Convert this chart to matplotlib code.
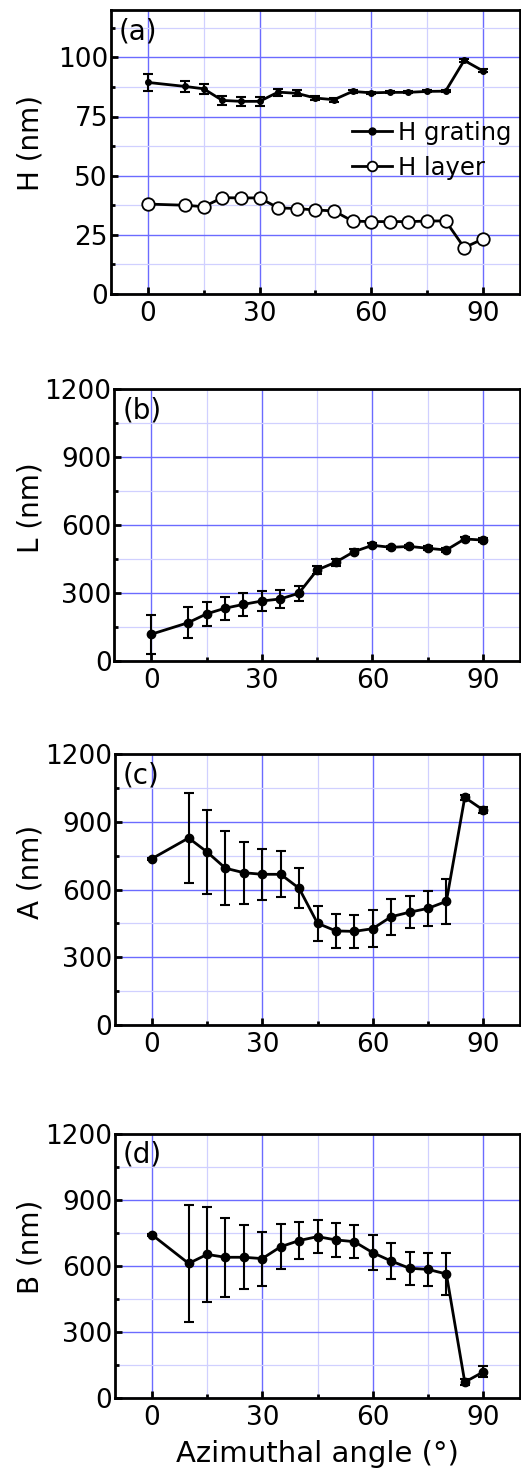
import matplotlib
matplotlib.use("Agg")
import matplotlib.pyplot as plt
from matplotlib.ticker import MultipleLocator
from matplotlib.lines import Line2D

plt.rcParams['font.family'] = ['DejaVu Sans']

angles = [0, 10, 15, 20, 25, 30, 35, 40, 45, 50, 55, 60, 65, 70, 75, 80, 85, 90]

h_grating = [89.4, 87.7, 86.7, 81.8, 81.4, 81.4, 85.3, 84.8, 82.8, 82.1, 85.6, 85.0, 85.2, 85.2, 85.6, 85.7, 98.7, 94.3]
h_grating_err = [3.5, 2.5, 2.0, 2.0, 1.8, 2.0, 1.5, 1.2, 0.8, 0.8, 0.5, 0.4, 0.4, 0.4, 0.4, 0.4, 0.6, 0.6]
h_layer = [38.0, 37.5, 36.9, 40.7, 40.6, 40.6, 36.4, 36.1, 35.5, 35.1, 30.8, 30.6, 30.6, 30.6, 30.8, 30.9, 19.6, 23.2]

L_vals = [118, 169, 208, 233, 250, 265, 274, 299, 402, 436, 483, 511, 502, 506, 498, 490, 539, 534]
L_err = [85, 68, 53, 50, 50, 46, 41, 34, 18, 16, 12, 8, 8, 8, 8, 8, 8, 8]

A_vals = [737, 829, 767, 695, 675, 668, 668, 606, 451, 417, 415, 427, 480, 500, 517, 548, 1009, 953]
A_err = [5, 200, 186, 165, 138, 114, 102, 89, 77, 75, 73, 81, 80, 72, 78, 100, 10, 12]

B_vals = [742, 611, 652, 639, 639, 633, 687, 715, 733, 718, 710, 660, 622, 589, 584, 563, 71, 117]
B_err = [5, 267, 217, 179, 146, 123, 102, 86, 76, 76, 76, 79, 83, 74, 76, 97, 15, 25]

W, H = 521, 1470
fig = plt.figure(figsize=(W / 100, H / 100), dpi=100)

positions = [
    (110.7, 10, 520, 294),
    (114.3, 389.3, 520, 661),
    (115, 754.3, 520, 1025),
    (115, 1134, 520, 1397.7),
]
label_centers = [143, 508, 872, 1247]

def make_ax(pos):
    l, t, r, b = pos
    return fig.add_axes([l / W, 1 - b / H, (r - l) / W, (b - t) / H])

def style(ax, idx, ymax, ymajor, yminor, label, panel):
    l, t, r, b = positions[idx]
    ax.set_xlim(-10, 100)
    ax.set_ylim(0, ymax)
    ax.xaxis.set_major_locator(MultipleLocator(30))
    ax.xaxis.set_minor_locator(MultipleLocator(15))
    ax.yaxis.set_major_locator(MultipleLocator(ymajor))
    ax.yaxis.set_minor_locator(MultipleLocator(yminor))
    ax.grid(True, which='major', color='#6b6bff', lw=1.0, zorder=0)
    ax.grid(True, which='minor', color='#d0d0ff', lw=0.9, zorder=0)
    ax.set_axisbelow(True)
    ax.tick_params(which='both', direction='in', labelsize=19, width=2, top=False, right=False)
    ax.tick_params(axis='y', pad=2)
    ax.tick_params(axis='x', pad=5)
    ax.tick_params(which='major', length=5)
    ax.tick_params(which='minor', length=3)
    for s in ax.spines.values():
        s.set_linewidth(2)
    ax.set_ylabel(label, fontsize=20)
    ax.yaxis.set_label_coords((45 - l) / (r - l), (b - label_centers[idx]) / (b - t))
    ax.text(0.02, 0.975, panel, transform=ax.transAxes, fontsize=20, va='top', ha='left')

# (a)
ax = make_ax(positions[0])
ax.errorbar(angles, h_grating, yerr=h_grating_err, color='black', lw=2, marker='o', ms=4,
            capsize=3.5, elinewidth=1.5, capthick=1.5, zorder=3)
ax.plot(angles, h_layer, color='black', lw=2, marker='o', ms=9, mfc='white', mec='black', mew=1.3,
        zorder=3)
style(ax, 0, 120, 25, 12.5, 'H (nm)', '(a)')
ax.set_yticks([0, 25, 50, 75, 100])
ax.set_yticks([12.5, 37.5, 62.5, 87.5, 112.5], minor=True)
handles = [Line2D([], [], color='black', lw=2, marker='o', ms=5),
           Line2D([], [], color='black', lw=2, marker='o', ms=7, mfc='white', mec='black', mew=1.3)]
ax.legend(handles, ['H grating', 'H layer'], loc='upper left', bbox_to_anchor=(0.59, 0.61),
          frameon=False, fontsize=17.5, handlelength=1.65, handletextpad=0.25,
          labelspacing=0.45, borderaxespad=0, borderpad=0)

# (b)
ax = make_ax(positions[1])
ax.errorbar(angles, L_vals, yerr=L_err, color='black', lw=2, marker='o', ms=6,
            capsize=3.5, elinewidth=1.5, capthick=1.5, zorder=3)
style(ax, 1, 1200, 300, 150, 'L (nm)', '(b)')

# (c)
ax = make_ax(positions[2])
ax.errorbar(angles, A_vals, yerr=A_err, color='black', lw=2, marker='o', ms=6,
            capsize=3.5, elinewidth=1.5, capthick=1.5, zorder=3)
style(ax, 2, 1200, 300, 150, 'A (nm)', '(c)')

# (d)
ax = make_ax(positions[3])
ax.errorbar(angles, B_vals, yerr=B_err, color='black', lw=2, marker='o', ms=6,
            capsize=3.5, elinewidth=1.5, capthick=1.5, zorder=3)
style(ax, 3, 1200, 300, 150, 'B (nm)', '(d)')
ax.set_xlabel('Azimuthal angle (°)', fontsize=21, labelpad=7)

fig.savefig('out.png', dpi=100)
